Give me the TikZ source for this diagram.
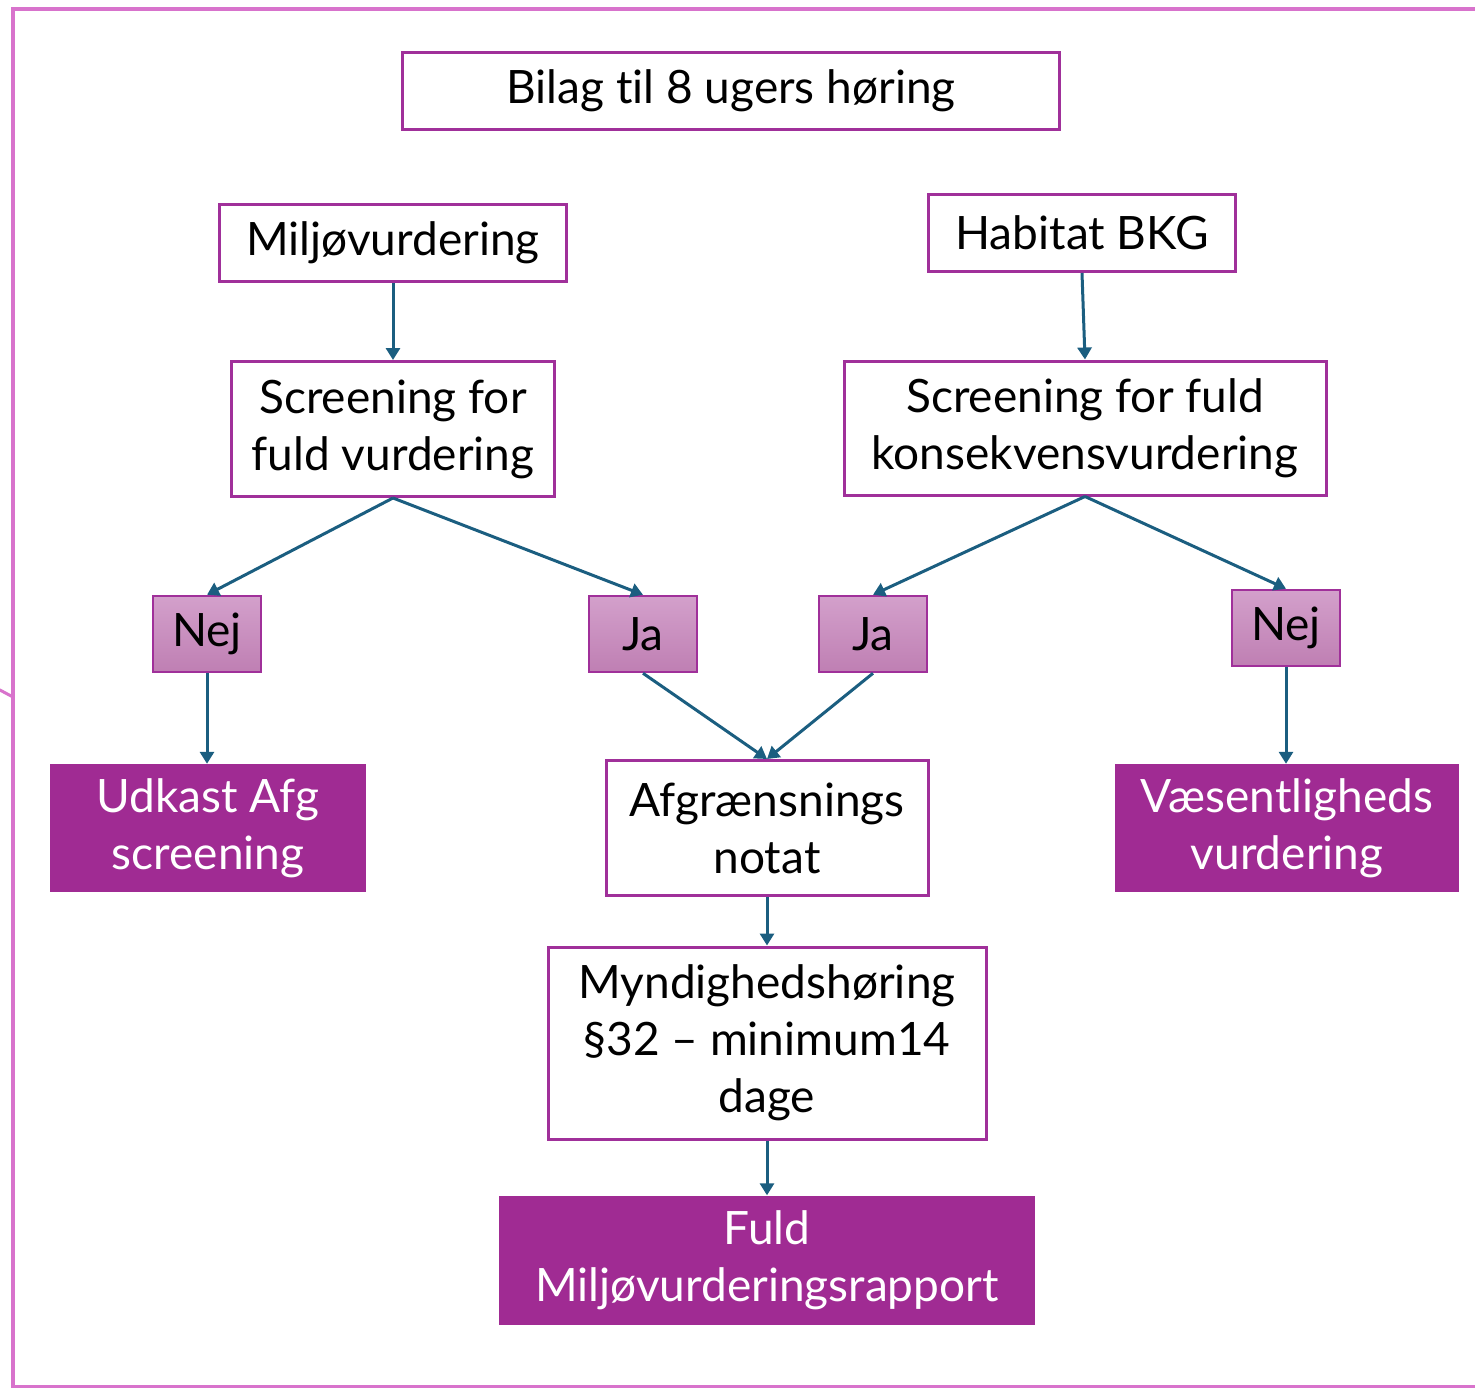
\documentclass[tikz,border=0pt]{standalone}
\usepackage{fontspec}
\setmainfont{Lato}[Ligatures={NoCommon}]
\usetikzlibrary{arrows.meta}
\definecolor{boxline}{HTML}{A0309A}
\definecolor{boxfill}{HTML}{A02B93}
\definecolor{frameline}{HTML}{D873CC}
\definecolor{arrowcol}{HTML}{1B5E80}
\definecolor{choicetop}{HTML}{D3A0CB}
\definecolor{choicebot}{HTML}{BF7FB3}

\begin{document}
\begin{tikzpicture}[x=1pt, y=-1pt,
    every node/.style={font=\fontsize{46}{57}\selectfont, align=center, inner sep=0pt},
    stepbox/.style={draw=boxline, line width=3pt, fill=white, rectangle},
    endbox/.style={fill=boxfill, text=white, rectangle},
    choice/.style={draw=boxline, line width=2.5pt, top color=choicetop, bottom color=choicebot,
      rectangle, minimum width=108pt, minimum height=76pt},
    flow/.style={draw=arrowcol, line width=3pt, -{Triangle[width=14pt,length=12pt]}}]

  \useasboundingbox (0, 0) rectangle (1475, 1388);

  % outer frame, open to the right
  \draw[frameline, line width=4pt] (1480, 9) -- (13, 9) -- (13, 1387) -- (1480, 1387);
  \draw[frameline, line width=3pt] (13, 697) -- (-2, 689);

  \node[stepbox, minimum width=657pt, minimum height=77pt] (bilag) at (731, 91) {Bilag til 8 ugers høring};

  \node[stepbox, minimum width=347pt, minimum height=77pt] (miljo) at (393, 243) {Miljøvurdering};
  \node[stepbox, minimum width=307pt, minimum height=77pt] (habitat) at (1082, 233) {Habitat BKG};

  \node[stepbox, minimum width=323pt, minimum height=135pt] (screenL) at (393, 429) {Screening for\\fuld vurdering};
  \node[stepbox, minimum width=482pt, minimum height=134pt] (screenR) at (1085, 428) {Screening for fuld\\konsekvensvurdering};

  \node[choice] (nejL) at (207, 634) {Nej};
  \node[choice] (jaL) at (643, 634) {Ja};
  \node[choice] (jaR) at (873, 634) {Ja};
  \node[choice] (nejR) at (1286, 628) {Nej};

  \node[endbox, minimum width=316pt, minimum height=128pt] (udkast) at (208, 828) {Udkast Afg\\screening};
  \node[stepbox, minimum width=322pt, minimum height=135pt] (afg) at (767, 828) {Afgrænsnings\\notat};
  \node[endbox, minimum width=344pt, minimum height=128pt] (vaes) at (1287, 828) {Væsentligheds\\vurdering};

  \node[stepbox, minimum width=438pt, minimum height=192pt] (mynd) at (767, 1043) {Myndighedshøring\\§32 – minimum14\\dage};
  \node[endbox, minimum width=536pt, minimum height=129pt] (fuld) at (767, 1260) {Fuld\\Miljøvurderingsrapport};

  \draw[flow] (miljo.south) -- (screenL.north);
  \draw[flow] (habitat.south) -- (screenR.north);
  \draw[flow] (screenL.south) -- (nejL.north);
  \draw[flow] (screenL.south) -- (jaL.north);
  \draw[flow] (screenR.south) -- (jaR.north);
  \draw[flow] (screenR.south) -- (nejR.north);
  \draw[flow] (nejL.south) -- (nejL.south |- udkast.north);
  \draw[flow] (jaL.south) -- (afg.north);
  \draw[flow] (jaR.south) -- (afg.north);
  \draw[flow] (nejR.south) -- (nejR.south |- vaes.north);
  \draw[flow] (afg.south) -- (mynd.north);
  \draw[flow] (mynd.south) -- (fuld.north);

\end{tikzpicture}
\end{document}
